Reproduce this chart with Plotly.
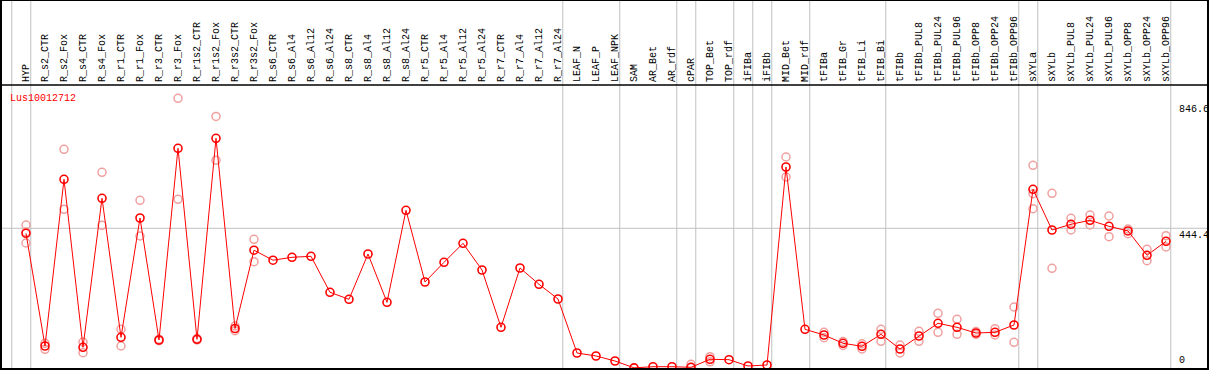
import plotly.graph_objects as go

categories = ["HYP", "R_s2_CTR", "R_s2_Fox", "R_s4_CTR", "R_s4_Fox", "R_r1_CTR", "R_r1_Fox",
              "R_r3_CTR", "R_r3_Fox", "R_r1s2_CTR", "R_r1s2_Fox", "R_r3s2_CTR", "R_r3s2_Fox",
              "R_s6_CTR", "R_s6_Al4", "R_s6_Al12", "R_s6_Al24", "R_s8_CTR", "R_s8_Al4", "R_s8_Al12",
              "R_s8_Al24", "R_r5_CTR", "R_r5_Al4", "R_r5_Al12", "R_r5_Al24", "R_r7_CTR", "R_r7_Al4",
              "R_r7_Al12", "R_r7_Al24", "LEAF_N", "LEAF_P", "LEAF_NPK", "SAM", "AR_Bet", "AR_rdf",
              "cPAR", "TOP_Bet", "TOP_rdf", "iFIBa", "iFIBb", "MID_Bet", "MID_rdf", "tFIBa",
              "tFIB_Gr", "tFIB_Li", "tFIB_Bi", "tFIBb", "tFIBb_PUL8", "tFIBb_PUL24", "tFIBb_PUL96",
              "tFIBb_OPP8", "tFIBb_OPP24", "tFIBb_OPP96", "sXYLa", "sXYLb", "sXYLb_PUL8",
              "sXYLb_PUL24", "sXYLb_PUL96", "sXYLb_OPP8", "sXYLb_OPP24", "sXYLb_OPP96"]

group_sizes = [1, 28, 3, 3, 1, 2, 1, 1, 2, 4, 7, 1, 7]

mean_values = [428.4, 70.0, 600.2, 65.8, 539.8, 97.6, 477.1, 89.1, 698.8, 91.3, 730.6, 125.6, 374.7,
               342.9, 352.1, 355.3, 240.8, 218.5, 362.6, 209.0, 501.6, 273.5, 336.2, 396.6, 311.7,
               129.5, 318.1, 266.2, 219.5, 47.7, 38.2, 22.3, 0.5, 4.1, 4.1, 2.2, 27.7, 26.4, 6.4,
               9.5, 639.3, 123.1, 105.0, 78.6, 69.0, 107.2, 60.4, 101.8, 142.2, 129.5, 111.3,
               113.5, 136.8, 568.4, 438.9, 457.1, 469.8, 450.7, 435.8, 358.5, 403.0]

rep_high = [454.8, 78.6, 695.6, 82.7, 622.5, 123.1, 533.4, 91.3, 857.8, 93.8, 800.0, 133.6, 409.4,
            None, None, None, None, None, None, None, None, None, None, None, None,
            None, None, None, None, None, None, None, None, None, None, 11.8, 35.9, None, None,
            None, 671.1, None, 113.5, 84.3, 77.0, 123.1, 73.2, 116.7, 174.0, 154.9, 116.1,
            125.0, 194.0, 644.7, 555.7, 476.1, 486.6, 483.5, 442.1, 377.5, 420.8]

rep_low = [397.6, 59.5, 504.8, 48.7, 453.9, 70.0, 419.8, 86.8, 536.6, 89.1, 660.6, 118.6, 338.1,
           None, None, None, None, None, None, None, None, None, None, None, None,
           None, None, None, None, None, None, None, None, None, None, 1.6, 19.5, None, None,
           None, 607.5, None, 96.4, 71.6, 60.4, 84.9, 47.7, 84.9, 113.5, 107.2, 106.6,
           105.0, 81.7, 506.7, 317.1, 438.9, 454.8, 417.6, 427.2, 341.3, 384.9]

rep_extra = {"HYP": 432.6, "sXYLa": 554.4}

axis_ticks = [846.6, 444.4, 0]
axis_ticktext = ["846.6", "444.4", "0"]
grid_value = 444.4
title_text = "Lus10012712"

RED = "#FF0000"
PINK = "#F0A0A0"
GRID = "#C0C0C0"
FONT = "Liberation Mono"

xs = list(range(len(categories)))

rx, ry = [], []
for i, (a, b) in enumerate(zip(rep_high, rep_low)):
    for v in (a, b):
        if v is not None:
            rx.append(i)
            ry.append(v)
for name, v in rep_extra.items():
    rx.append(categories.index(name))
    ry.append(v)

fig = go.Figure()
fig.add_trace(go.Scatter(
    x=rx, y=ry, mode="markers", cliponaxis=False,
    marker=dict(symbol="circle-open", size=8, color=PINK, line=dict(width=1.5, color=PINK)),
    showlegend=False, hoverinfo="skip"))
fig.add_trace(go.Scatter(
    x=xs, y=mean_values, mode="lines+markers", cliponaxis=False,
    line=dict(color=RED, width=1),
    marker=dict(symbol="circle-open", size=8, color=RED, line=dict(width=1.6, color=RED)),
    showlegend=False))

W, H = 1209, 370
mt, mb, ml, mr = 85, 1, 1, 1
plot_h = H - mt - mb
top_paper = 1 + mt / plot_h

shapes = []
bounds = [-1]
acc = -1
for g in group_sizes:
    acc += g
    bounds.append(acc)
for bnd in bounds:
    shapes.append(dict(type="line", xref="x", yref="paper", x0=bnd + 0.25, x1=bnd + 0.25,
                       y0=0, y1=top_paper, line=dict(color=GRID, width=1), layer="below"))
shapes.append(dict(type="line", xref="paper", yref="y", x0=0, x1=1, y0=grid_value, y1=grid_value,
                   line=dict(color=GRID, width=1), layer="below"))
shapes.append(dict(type="rect", xref="paper", yref="paper", x0=0, x1=1, y0=0, y1=top_paper,
                   line=dict(color="black", width=2)))
shapes.append(dict(type="line", xref="paper", yref="paper", x0=0, x1=1, y0=1, y1=1,
                   line=dict(color="black", width=1.5)))

annotations = [dict(text=title_text, xref="paper", yref="paper", x=7 / (W - ml - mr),
                    y=1 - 6 / plot_h, xanchor="left", yanchor="top", showarrow=False,
                    font=dict(family=FONT, size=10, color=RED))]
x_right = 60.6
for v, t in zip(axis_ticks, axis_ticktext):
    annotations.append(dict(text=t, xref="x", yref="y", x=x_right, y=v, xanchor="left",
                            yanchor="bottom" if v == 0 else "top", showarrow=False,
                            font=dict(family=FONT, size=10, color="black")))

fig.update_layout(
    width=W, height=H,
    margin=dict(l=ml, r=mr, t=mt, b=mb, pad=0),
    paper_bgcolor="white", plot_bgcolor="white",
    shapes=shapes, annotations=annotations,
    xaxis=dict(side="top", tickmode="array", tickvals=xs, ticktext=categories,
               tickangle=-90, ticks="", ticklen=0, ticklabelstandoff=2,
               showgrid=False, zeroline=False,
               range=[(ml - 26) / 19, (W - mr - 26) / 19],
               tickfont=dict(family=FONT, size=10, color="black"), automargin=False),
    yaxis=dict(range=[(368 - (H - mb)) / 0.3144, (368 - mt) / 0.3144], showgrid=False,
               zeroline=False, showticklabels=False, ticks=""),
)

fig.write_html("out.html", config={"displayModeBar": False},
               post_script="document.body.style.margin='0';document.body.style.overflow='hidden';")
